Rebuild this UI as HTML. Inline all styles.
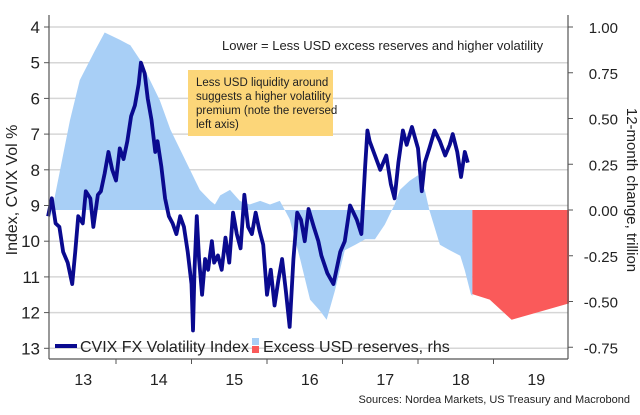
<!DOCTYPE html>
<html><head><meta charset="utf-8"><style>
body{margin:0;background:#fff;font-family:"Liberation Sans",sans-serif}
svg text{font-family:"Liberation Sans",sans-serif}
</style></head><body>
<svg id="c" width="640" height="410" xmlns="http://www.w3.org/2000/svg"></svg>
<script>
const leftTicks=[4,5,6,7,8,9,10,11,12,13];
const rightTicks=["1.00","0.75","0.50","0.25","0.00","-0.25","-0.50","-0.75"];
const years=["13","14","15","16","17","18","19"];
const volT=[2013.1,2013.15,2013.2,2013.25,2013.3,2013.36,2013.42,2013.46,2013.5,2013.56,2013.6,2013.66,2013.7,2013.76,2013.8,2013.85,2013.9,2013.95,2014.0,2014.05,2014.1,2014.15,2014.2,2014.25,2014.3,2014.33,2014.38,2014.42,2014.47,2014.52,2014.55,2014.6,2014.65,2014.7,2014.75,2014.8,2014.85,2014.9,2014.95,2015.0,2015.02,2015.04,2015.07,2015.1,2015.14,2015.18,2015.22,2015.27,2015.3,2015.35,2015.4,2015.45,2015.5,2015.55,2015.6,2015.65,2015.7,2015.75,2015.8,2015.85,2015.9,2015.95,2016.0,2016.05,2016.1,2016.15,2016.2,2016.25,2016.3,2016.35,2016.4,2016.45,2016.5,2016.55,2016.62,2016.68,2016.72,2016.8,2016.88,2016.97,2017.03,2017.1,2017.19,2017.25,2017.3,2017.33,2017.36,2017.43,2017.5,2017.58,2017.64,2017.69,2017.74,2017.8,2017.85,2017.92,2018.0,2018.05,2018.09,2018.15,2018.22,2018.29,2018.36,2018.42,2018.46,2018.52,2018.57,2018.62,2018.66,2018.71];
const volV=[9.3,8.8,9.5,9.6,10.3,10.6,11.2,10.3,9.3,9.5,8.6,8.8,9.6,8.7,8.6,8.1,7.5,8.0,8.3,7.4,7.7,7.2,6.5,6.2,5.6,5.0,5.3,6.0,6.6,7.5,7.2,7.9,8.8,9.3,9.5,9.8,9.3,9.6,10.3,11.2,12.5,10.8,9.3,10.5,11.5,10.5,10.8,10.0,10.6,10.4,10.8,9.9,10.6,9.2,9.8,10.2,8.7,9.6,9.8,9.2,9.7,10.1,11.5,10.8,11.8,11.1,10.5,11.4,12.4,10.5,9.2,9.4,10.0,9.1,9.6,10.0,10.4,10.9,11.2,10.3,10.0,9.0,9.4,9.8,7.9,6.9,7.2,7.6,8.0,7.6,8.4,8.8,7.8,6.9,7.3,6.8,7.4,8.6,7.8,7.4,6.9,7.2,7.6,7.3,7.0,7.5,8.2,7.5,7.8];
const resT=[2013.13,2013.26,2013.39,2013.52,2013.72,2013.85,2013.95,2014.05,2014.19,2014.32,2014.45,2014.58,2014.72,2014.85,2014.98,2015.11,2015.25,2015.31,2015.38,2015.51,2015.64,2015.77,2015.91,2016.04,2016.17,2016.3,2016.44,2016.57,2016.7,2016.79,2016.9,2017.03,2017.17,2017.3,2017.43,2017.56,2017.69,2017.76,2017.89,2018.0,2018.09,2018.15,2018.29,2018.42,2018.56,2018.62,2018.7,2018.72];
const resV=[-0.05,0.22,0.49,0.71,0.87,0.97,0.95,0.93,0.9,0.82,0.71,0.6,0.44,0.33,0.22,0.11,0.05,0.03,0.08,0.11,0.05,0.03,0.05,0.03,0.05,-0.05,-0.27,-0.49,-0.55,-0.6,-0.44,-0.22,-0.19,-0.16,-0.16,-0.08,0.03,0.11,0.16,0.19,0.11,0.0,-0.19,-0.22,-0.25,-0.33,-0.46,-0.47];
const fcT=[2018.72,2018.95,2019.24,2020.0];
const fcV=[-0.46,-0.49,-0.6,-0.51];

const NS="http://www.w3.org/2000/svg";
const svg=document.getElementById('c');
const X0=49,X1=568;
const xs=t=>40.5+(t-2013)*75.5;
const yl=v=>27+(v-4)*35.7;
const yr=r=>210-r*183;
function mk(tag,attrs,parent){const e=document.createElementNS(NS,tag);for(const k in attrs)e.setAttribute(k,attrs[k]);(parent||svg).appendChild(e);return e;}

leftTicks.forEach((v,i)=>{
  const g=mk('line',{x1:X0,x2:X1,y1:yl(v),y2:yl(v),stroke:'#d6d6d6','stroke-width':1.5});
  
  
  const tk=mk('line',{x1:X0-5,x2:X0,y1:yl(v),y2:yl(v),stroke:'#555'});
  
  
  const t=mk('text',{x:X0-9,y:yl(v)+6,'text-anchor':'end','font-size':17,fill:'#222'});
  t.textContent=v;
  
  
});
rightTicks.forEach(s=>{
  const y=yr(parseFloat(s));
  const tk=mk('line',{x1:X1,x2:X1+5,y1:y,y2:y,stroke:'#555'});
  
  
  const t=mk('text',{x:X1+50,y:y+6,'text-anchor':'end','font-size':15,fill:'#222'});
  t.textContent=s;
  
  
});
let d='M'+xs(resT[0])+','+yr(0);
resT.forEach((t,i)=>d+=' L'+xs(t)+','+yr(resV[i]));
d+=' L'+xs(resT[resT.length-1])+','+yr(0)+'Z';
const ra=mk('path',{d:d,fill:'#a8cff6'});


let d2='M'+xs(fcT[0])+','+yr(0);
fcT.forEach((t,i)=>d2+=' L'+xs(t)+','+yr(fcV[i]));
d2+=' L'+xs(fcT[fcT.length-1])+','+yr(0)+'Z';
const fa=mk('path',{d:d2,fill:'#fa5a5a'});


const pts=volT.map((t,i)=>xs(t)+','+yl(volV[i])).join(' ');
const vl=mk('polyline',{points:pts,fill:'none',stroke:'#0a0a8f','stroke-width':3.8,'stroke-linejoin':'round'});


const la=mk('line',{x1:X0,x2:X0,y1:15,y2:359,stroke:'#555','stroke-width':1.2});


const rax=mk('line',{x1:X1,x2:X1,y1:15,y2:359,stroke:'#555','stroke-width':1.2});


const ba=mk('line',{x1:X0,x2:X1,y1:359,y2:359,stroke:'#555','stroke-width':1.2});


years.forEach((y,i)=>{
  const t0=2013+i;
  if(i>0){const tk=mk('line',{x1:xs(t0),x2:xs(t0),y1:359,y2:364,stroke:'#555'});
  
  }
  const t=mk('text',{x:xs(t0+0.5)+5,y:385,'text-anchor':'middle','font-size':16,fill:'#222'});
  t.textContent=y;
  
  
});
</script>
<svg width="640" height="410" style="position:absolute;left:0;top:0" xmlns="http://www.w3.org/2000/svg">
<text transform="translate(17,190) rotate(-90)" text-anchor="middle" font-size="16" fill="#222">Index, CVIX Vol %</text>
<text transform="translate(627,190) rotate(90)" text-anchor="middle" font-size="15" fill="#222">12-month change, trillion</text>
<text x="222" y="50" font-size="13" fill="#222">Lower = Less USD excess reserves and higher volatility</text>
<g>
<rect x="188" y="70" width="145" height="66" fill="#fcd679"/>
<text x="196" y="86" font-size="11.5" fill="#222">Less USD liquidity around</text>
<text x="196" y="100" font-size="11.5" fill="#222">suggests a higher volatility</text>
<text x="196" y="114" font-size="11.5" fill="#222">premium (note the reversed</text>
<text x="196" y="128" font-size="11.5" fill="#222">left axis)</text>
</g>
<g>
<rect x="55" y="344" width="22" height="4" fill="#0a0a8f"/>
<text x="80" y="352" font-size="16" fill="#222">CVIX FX Volatility Index</text>
<rect x="252" y="338" width="7" height="7" fill="#a8cff6"/>
<rect x="252" y="346" width="7" height="7" fill="#fa5a5a"/>
<text x="263" y="352" font-size="16" fill="#222">Excess USD reserves, rhs</text>
</g>
<text x="630" y="403" text-anchor="end" font-size="11" fill="#222">Sources: Nordea Markets, US Treasury and Macrobond</text>
</svg>
</body></html>
